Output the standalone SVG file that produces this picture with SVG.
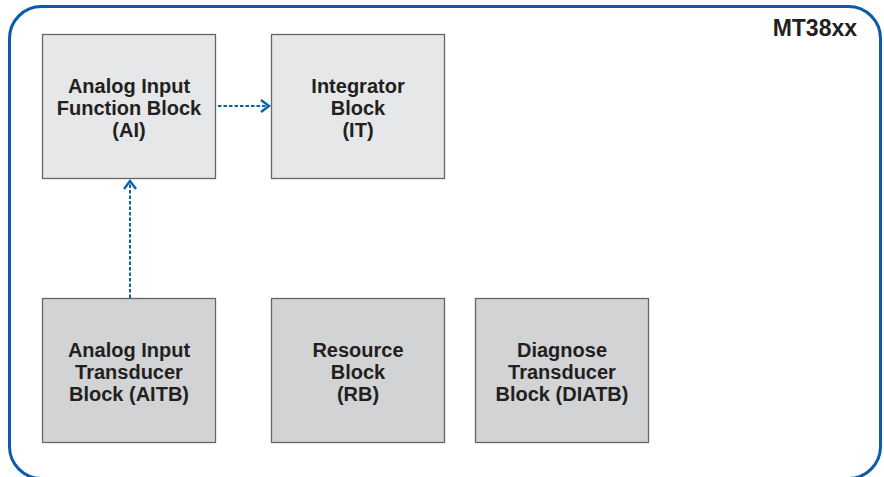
<svg xmlns="http://www.w3.org/2000/svg" width="884" height="477" viewBox="0 0 884 477">
<defs>
<style>
.frame{fill:#fff;stroke:#0a5cab;stroke-width:3}
.blk{stroke:#666;stroke-width:1.3}
.top{fill:#e6e7e8}
.bot{fill:#d2d3d5}
.t{font-family:"Liberation Sans",Arial,sans-serif;font-weight:bold;font-size:20px;fill:#231f20;text-anchor:middle}
.c{fill:none;stroke:#0a60b0;stroke-width:2;stroke-dasharray:3.5,2}
</style>
<marker id="ah" markerWidth="12" markerHeight="14" refX="10" refY="7" orient="auto" markerUnits="userSpaceOnUse">
<path d="M2,1 L10,7 L2,13" fill="none" stroke="#0a60b0" stroke-width="2.4"/>
</marker>
</defs>
<rect class="frame" x="9.5" y="6.5" width="871" height="472" rx="32"/>
<text x="857" y="36" font-family="Liberation Sans,Arial,sans-serif" font-weight="bold" font-size="23" fill="#231f20" text-anchor="end">MT38xx</text>
<g id="connectors">
<line class="c" x1="218" y1="106" x2="269" y2="106" marker-end="url(#ah)"/>
<line class="c" x1="130" y1="298" x2="130" y2="181" marker-end="url(#ah)"/>
</g>
<g id="ai">
<rect class="blk top" x="42.5" y="34.5" width="173" height="144"/>
<text class="t" x="129" y="93">Analog Input</text>
<text class="t" x="129" y="115">Function Block</text>
<text class="t" x="129" y="137">(AI)</text>
</g>
<g id="it">
<rect class="blk top" x="271.5" y="34.5" width="173" height="144"/>
<text class="t" x="358" y="93">Integrator</text>
<text class="t" x="358" y="115">Block</text>
<text class="t" x="358" y="137">(IT)</text>
</g>
<g id="aitb">
<rect class="blk bot" x="42.5" y="298.5" width="173" height="144"/>
<text class="t" x="129" y="357">Analog Input</text>
<text class="t" x="129" y="379">Transducer</text>
<text class="t" x="129" y="401">Block (AITB)</text>
</g>
<g id="rb">
<rect class="blk bot" x="271.5" y="298.5" width="173" height="144"/>
<text class="t" x="358" y="357">Resource</text>
<text class="t" x="358" y="379">Block</text>
<text class="t" x="358" y="401">(RB)</text>
</g>
<g id="diatb">
<rect class="blk bot" x="475.5" y="298.5" width="173" height="144"/>
<text class="t" x="562" y="357">Diagnose</text>
<text class="t" x="562" y="379">Transducer</text>
<text class="t" x="562" y="401">Block (DIATB)</text>
</g>
</svg>
